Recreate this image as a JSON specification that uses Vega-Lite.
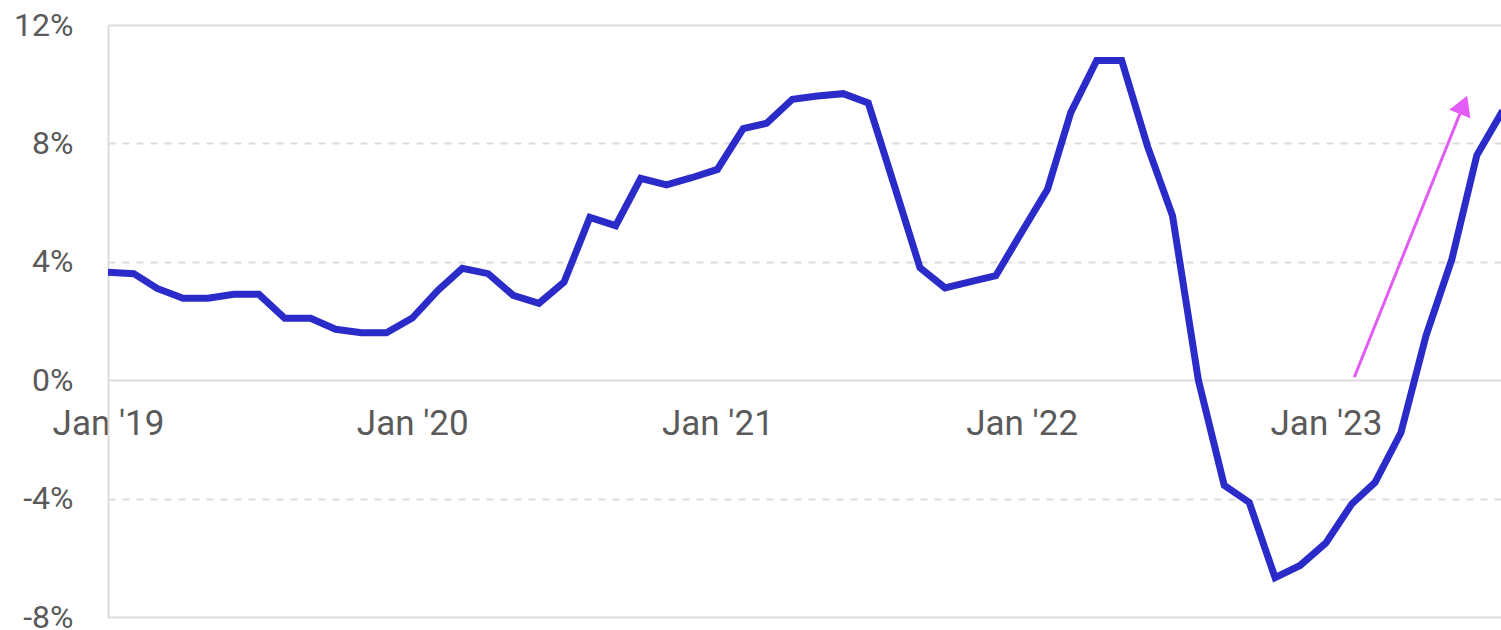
{
  "$schema": "https://vega.github.io/schema/vega-lite/v6.json",
  "autosize": {"type": "none"},
  "padding": {"left": 108, "top": 25, "right": 0, "bottom": 13},
  "width": 1393,
  "height": 592,
  "background": "white",
  "config": {
    "view": {"stroke": null},
    "font": "Roboto",
    "axis": {"labelFont": "Roboto", "labelFontSize": 32, "labelColor": "#5a5a5a", "title": null}
  },
  "datasets": {
    "series": [
      {"date": "2019-01-01", "value": 3.65},
      {"date": "2019-02-01", "value": 3.6},
      {"date": "2019-03-01", "value": 3.1},
      {"date": "2019-04-01", "value": 2.77},
      {"date": "2019-05-01", "value": 2.77},
      {"date": "2019-06-01", "value": 2.9},
      {"date": "2019-07-01", "value": 2.9},
      {"date": "2019-08-01", "value": 2.09},
      {"date": "2019-09-01", "value": 2.09},
      {"date": "2019-10-01", "value": 1.72},
      {"date": "2019-11-01", "value": 1.6},
      {"date": "2019-12-01", "value": 1.6},
      {"date": "2020-01-01", "value": 2.1},
      {"date": "2020-02-01", "value": 3.04},
      {"date": "2020-03-01", "value": 3.78},
      {"date": "2020-04-01", "value": 3.6},
      {"date": "2020-05-01", "value": 2.87},
      {"date": "2020-06-01", "value": 2.6},
      {"date": "2020-07-01", "value": 3.31},
      {"date": "2020-08-01", "value": 5.5},
      {"date": "2020-09-01", "value": 5.22},
      {"date": "2020-10-01", "value": 6.82},
      {"date": "2020-11-01", "value": 6.6},
      {"date": "2020-12-01", "value": 6.84},
      {"date": "2021-01-01", "value": 7.12},
      {"date": "2021-02-01", "value": 8.5},
      {"date": "2021-03-01", "value": 8.68},
      {"date": "2021-04-01", "value": 9.49},
      {"date": "2021-05-01", "value": 9.6},
      {"date": "2021-06-01", "value": 9.68},
      {"date": "2021-07-01", "value": 9.37},
      {"date": "2021-08-01", "value": 6.6},
      {"date": "2021-09-01", "value": 3.8},
      {"date": "2021-10-01", "value": 3.12},
      {"date": "2021-11-01", "value": 3.33},
      {"date": "2021-12-01", "value": 3.53},
      {"date": "2022-01-01", "value": 5.0},
      {"date": "2022-02-01", "value": 6.45},
      {"date": "2022-03-01", "value": 9.05},
      {"date": "2022-04-01", "value": 10.8},
      {"date": "2022-05-01", "value": 10.8},
      {"date": "2022-06-01", "value": 7.9},
      {"date": "2022-07-01", "value": 5.55},
      {"date": "2022-08-01", "value": 0.0},
      {"date": "2022-09-01", "value": -3.55},
      {"date": "2022-10-01", "value": -4.13},
      {"date": "2022-11-01", "value": -6.67},
      {"date": "2022-12-01", "value": -6.26},
      {"date": "2023-01-01", "value": -5.5},
      {"date": "2023-02-01", "value": -4.18},
      {"date": "2023-03-01", "value": -3.45},
      {"date": "2023-04-01", "value": -1.77},
      {"date": "2023-05-01", "value": 1.5},
      {"date": "2023-06-01", "value": 4.08},
      {"date": "2023-07-01", "value": 7.6},
      {"date": "2023-08-01", "value": 9.1}
    ],
    "arrow": [
      {"x0": "2023-02-04", "y0": 0.1, "x1": "2023-06-15", "y1": 9.3}
    ]
  },
  "layer": [
    {
      "data": {"name": "series"},
      "mark": {"type": "line", "color": "#2b2bc9", "strokeWidth": 7, "clip": true, "strokeJoin": "miter"},
      "encoding": {
        "x": {
          "field": "date", "type": "temporal",
          "scale": {"type": "utc", "domain": [{"year": 2019, "month": 1, "date": 1, "utc": true}, {"year": 2023, "month": 7, "date": 30, "utc": true}]},
          "axis": {
            "values": [
              {"year": 2019, "month": 1, "date": 1, "utc": true},
              {"year": 2020, "month": 1, "date": 1, "utc": true},
              {"year": 2021, "month": 1, "date": 1, "utc": true},
              {"year": 2022, "month": 1, "date": 1, "utc": true},
              {"year": 2023, "month": 1, "date": 1, "utc": true}
            ],
            "labelExpr": "utcFormat(datum.value, '%b') + \" '\" + utcFormat(datum.value, '%y')",
            "labelFontSize": 35,
            "orient": "bottom",
            "offset": -237,
            "domain": false,
            "ticks": false,
            "grid": false,
            "labelPadding": 26,
            "labelFlush": false,
            "labelOverlap": false
          }
        },
        "y": {
          "field": "value", "type": "quantitative",
          "scale": {"domain": [-8, 12], "nice": false, "zero": false},
          "axis": {
            "values": [-8, -4, 0, 4, 8, 12],
            "labelExpr": "datum.value + '%'",
            "domain": true,
            "domainColor": "#dcdcdc",
            "domainWidth": 2,
            "ticks": false,
            "labelPadding": 35,
            "grid": true,
            "gridColor": "#dcdcdc",
            "gridWidth": 2,
            "gridDash": {"condition": {"test": "datum.value === 0 || datum.value === 12 || datum.value === -8", "value": []}, "value": [7, 7]}
          }
        }
      }
    },
    {
      "data": {"name": "arrow"},
      "mark": {"type": "rule", "color": "#e25cf5", "strokeWidth": 3},
      "encoding": {
        "x": {"field": "x0", "type": "temporal"},
        "y": {"field": "y0", "type": "quantitative"},
        "x2": {"field": "x1"},
        "y2": {"field": "y1"}
      }
    },
    {
      "data": {"name": "arrow"},
      "mark": {"type": "point", "shape": "triangle-up", "filled": true, "color": "#e25cf5", "opacity": 1, "size": 520, "angle": 21.8},
      "encoding": {
        "x": {"field": "x1", "type": "temporal"},
        "y": {"field": "y1", "type": "quantitative"}
      }
    }
  ]
}
